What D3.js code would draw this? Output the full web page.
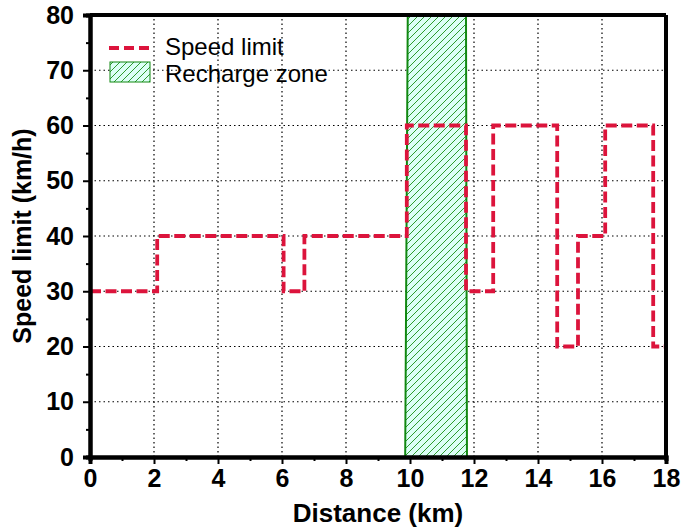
<!DOCTYPE html>
<html><head><meta charset="utf-8">
<script src="https://cdn.jsdelivr.net/npm/d3@7"></script>
<style>body{margin:0;background:#fff}svg{display:block}</style>
</head><body>
<script>
const stepX = [0, 2.1, 2.1, 6.05, 6.05, 6.7, 6.7, 9.9, 9.9, 11.75, 11.75, 12.6, 12.6, 14.6, 14.6, 15.25, 15.25, 16.1, 16.1, 17.6, 17.6, 18];
const stepY = [30, 30, 40, 40, 30, 30, 40, 40, 60, 60, 30, 30, 60, 60, 20, 20, 40, 40, 60, 60, 20, 20];
const zoneX = [9.85, 11.78, 11.75, 9.93];
const zoneY = [0, 0, 80, 80];
const xTicks = [0, 2, 4, 6, 8, 10, 12, 14, 16, 18];
const yTicks = [0, 10, 20, 30, 40, 50, 60, 70, 80];
const legendLabels = ["Speed limit", "Recharge zone"];

const W = 682, H = 529;
const m = {l: 90, r: 16, t: 15, b: 72};
const svg = d3.select("body").append("svg").attr("width", W).attr("height", H);
const x = d3.scaleLinear().domain([0, 18]).range([m.l, W - m.r]);
const y = d3.scaleLinear().domain([0, 80]).range([H - m.b, m.t]);
const font = "Arial, 'Liberation Sans', sans-serif";

const defs = svg.append("defs");
const P = 7;
const pat = defs.append("pattern").attr("id", "hatch").attr("patternUnits", "userSpaceOnUse")
  .attr("width", P).attr("height", P);
pat.append("rect").attr("width", P).attr("height", P).attr("fill", "#dcfff6");
pat.append("path").attr("d", `M-1,${P+1} L${P+1},-1 M-2,2 L2,-2 M${P-2},${P+2} L${P+2},${P-2}`)
  .attr("stroke", "#2e9b2e").attr("stroke-width", 1);

// grid
const g = svg.append("g");
g.selectAll(".gx").data(xTicks.slice(1, -1)).join("line")
  .attr("x1", d => x(d)).attr("x2", d => x(d)).attr("y1", y(0)).attr("y2", y(80))
  .attr("stroke", "#000").attr("stroke-width", 1.2).attr("stroke-dasharray", "1.5,3");
g.selectAll(".gy").data(yTicks.slice(1, -1)).join("line")
  .attr("y1", d => y(d)).attr("y2", d => y(d)).attr("x1", x(0)).attr("x2", x(18))
  .attr("stroke", "#000").attr("stroke-width", 1.2).attr("stroke-dasharray", "1.5,3");

// recharge zone
const zonePts = zoneX.map((v, i) => [x(v), y(zoneY[i])]);
svg.append("polygon").attr("points", zonePts.map(p => p.join(",")).join(" "))
  .attr("fill", "url(#hatch)").attr("stroke", "#118811").attr("stroke-width", 2);

// speed limit
const line = d3.line().x(d => x(d[0])).y(d => y(d[1]));
svg.append("path").datum(stepX.map((v, i) => [v, stepY[i]]))
  .attr("d", line).attr("fill", "none").attr("stroke", "#dc143c")
  .attr("stroke-width", 3.8).attr("stroke-dasharray", "11,4.5");

// axes
const xAxis = d3.axisBottom(x).tickValues(xTicks).tickSize(7).tickPadding(5);
const xMinor = d3.axisBottom(x).tickValues(d3.range(1, 18, 2)).tickSize(4).tickFormat("");
const yAxis = d3.axisLeft(y).tickValues(yTicks).tickSize(7).tickPadding(9);
const yMinor = d3.axisLeft(y).tickValues(d3.range(5, 80, 10)).tickSize(4).tickFormat("");

function styleAxis(sel) {
  sel.select(".domain").attr("stroke", "#000").attr("stroke-width", 4);
  sel.selectAll(".tick line").attr("stroke", "#000").attr("stroke-width", 2);
  sel.selectAll("text").attr("font-family", font).attr("font-weight", "bold").attr("font-size", 25).attr("fill", "#000");
}
styleAxis(svg.append("g").attr("transform", `translate(0,${y(0)})`).call(xAxis));
styleAxis(svg.append("g").attr("transform", `translate(0,${y(0)})`).call(xMinor));
styleAxis(svg.append("g").attr("transform", `translate(${x(0)},0)`).call(yAxis));
styleAxis(svg.append("g").attr("transform", `translate(${x(0)},0)`).call(yMinor));

// frame top/right
svg.append("line").attr("x1", x(0)).attr("x2", x(18)).attr("y1", y(80)).attr("y2", y(80))
  .attr("stroke", "#000").attr("stroke-width", 4);
svg.append("line").attr("x1", x(18)).attr("x2", x(18)).attr("y1", y(80)).attr("y2", y(0))
  .attr("stroke", "#000").attr("stroke-width", 4);

// axis titles
svg.append("text").attr("x", x(9)).attr("y", 522).attr("text-anchor", "middle")
  .attr("font-family", font).attr("font-weight", "bold").attr("font-size", 26).text("Distance (km)");
svg.append("text").attr("transform", `translate(31,${y(40)}) rotate(-90)`).attr("text-anchor", "middle")
  .attr("font-family", font).attr("font-weight", "bold").attr("font-size", 25).text("Speed limit (km/h)");

// legend
const lg = svg.append("g");
lg.append("line").attr("x1", 109).attr("x2", 150).attr("y1", 48).attr("y2", 48)
  .attr("stroke", "#dc143c").attr("stroke-width", 3.8).attr("stroke-dasharray", "10,5");
lg.append("rect").attr("x", 110).attr("y", 62).attr("width", 40).attr("height", 20)
  .attr("fill", "url(#hatch)").attr("stroke", "#118811").attr("stroke-width", 1);
lg.selectAll("text").data(legendLabels).join("text")
  .attr("x", 165).attr("y", (d, i) => 55 + i * 27)
  .attr("font-family", font).attr("font-size", 24).text(d => d);
</script>
</body></html>
